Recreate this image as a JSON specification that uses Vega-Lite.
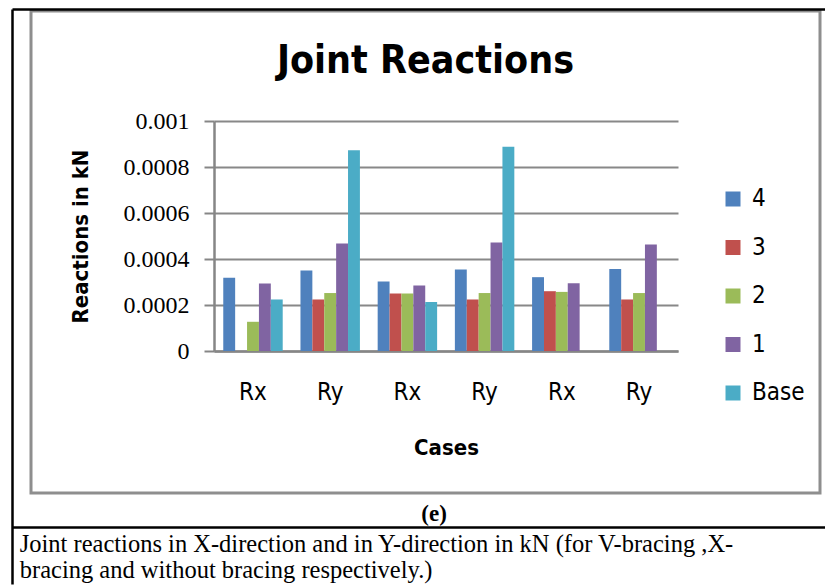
{
  "$schema": "https://vega.github.io/schema/vega-lite/v6.json",
  "padding": {"left": 7, "top": 4, "right": 0, "bottom": 0},
  "background": "white",
  "title": {
    "text": ["Joint reactions in X-direction and in Y-direction in kN (for V-bracing ,X-", "bracing and without bracing respectively.)"],
    "orient": "bottom", "anchor": "start", "dx": 12, "offset": -55,
    "font": "Liberation Serif", "fontSize": 24.5, "fontWeight": "normal", "color": "black",
    "lineHeight": 26, "baseline": "top"
  },
  "vconcat": [
    {
      "title": {
        "text": "(e)", "orient": "bottom", "anchor": "middle", "offset": -85, "dx": 7,
        "font": "Liberation Serif", "fontSize": 23, "fontWeight": "bold", "color": "black", "baseline": "top"
      },
      "vconcat": [
        {
          "width": 789,
          "height": 482,
          "view": {"stroke": "#8e8e8e", "strokeWidth": 3},
          "title": {
            "text": "Joint Reactions", "offset": -106, "baseline": "alphabetic", "anchor": "middle",
            "font": "Liberation Sans Narrow, DejaVu Sans Condensed, Roboto, sans-serif",
            "fontSize": 39, "fontWeight": "bold", "color": "black"
          },
          "resolve": {"scale": {"x": "independent", "y": "independent"}, "axis": {"x": "independent", "y": "independent"}},
          "layer": [
            {
              "data": {
                "values": [
                  {"case": "Rx1", "series": "4", "value": 0.000318},
                  {"case": "Rx1", "series": "2", "value": 0.000127},
                  {"case": "Rx1", "series": "1", "value": 0.000294},
                  {"case": "Rx1", "series": "Base", "value": 0.000224},
                  {"case": "Ry1", "series": "4", "value": 0.00035},
                  {"case": "Ry1", "series": "3", "value": 0.000224},
                  {"case": "Ry1", "series": "2", "value": 0.000252},
                  {"case": "Ry1", "series": "1", "value": 0.000467},
                  {"case": "Ry1", "series": "Base", "value": 0.000873},
                  {"case": "Rx2", "series": "4", "value": 0.000302},
                  {"case": "Rx2", "series": "3", "value": 0.00025},
                  {"case": "Rx2", "series": "2", "value": 0.00025},
                  {"case": "Rx2", "series": "1", "value": 0.000285},
                  {"case": "Rx2", "series": "Base", "value": 0.000213},
                  {"case": "Ry2", "series": "4", "value": 0.000354},
                  {"case": "Ry2", "series": "3", "value": 0.000224},
                  {"case": "Ry2", "series": "2", "value": 0.000252},
                  {"case": "Ry2", "series": "1", "value": 0.000472},
                  {"case": "Ry2", "series": "Base", "value": 0.000888},
                  {"case": "Rx3", "series": "4", "value": 0.000321},
                  {"case": "Rx3", "series": "3", "value": 0.00026},
                  {"case": "Rx3", "series": "2", "value": 0.000257},
                  {"case": "Rx3", "series": "1", "value": 0.000295},
                  {"case": "Ry3", "series": "4", "value": 0.000357},
                  {"case": "Ry3", "series": "3", "value": 0.000224},
                  {"case": "Ry3", "series": "2", "value": 0.000252},
                  {"case": "Ry3", "series": "1", "value": 0.000463}
                ]
              },
              "mark": {"type": "bar"},
              "encoding": {
                "x": {
                  "field": "case", "type": "nominal",
                  "scale": {"domain": ["Rx1", "Ry1", "Rx2", "Ry2", "Rx3", "Ry3"], "range": [183, 647], "paddingInner": 0.23, "paddingOuter": 0.12},
                  "axis": {
                    "orient": "bottom", "title": "Cases", "labelExpr": "substring(datum.label, 0, 2)", "labelAngle": 0,
                    "offset": -142, "ticks": false, "labelPadding": 29,
                    "domainColor": "#868686", "domainWidth": 2.5,
                    "labelFont": "DejaVu Sans Condensed, sans-serif", "labelFontSize": 24, "labelColor": "black",
                    "titleFont": "DejaVu Sans Condensed, sans-serif", "titleFontSize": 22, "titleFontWeight": "bold", "titleColor": "black",
                    "titlePadding": 33
                  }
                },
                "xOffset": {"field": "series", "type": "nominal", "scale": {"domain": ["4", "3", "2", "1", "Base"], "paddingInner": 0, "paddingOuter": 0}},
                "y": {
                  "field": "value", "type": "quantitative",
                  "scale": {"domain": [0, 0.001], "range": [340, 110], "nice": false, "zero": true},
                  "axis": {
                    "orient": "left", "title": "Reactions in kN", "values": [0, 0.0002, 0.0004, 0.0006, 0.0008, 0.001], "format": "~g",
                    "offset": -183, "grid": true, "gridColor": "#888888", "gridWidth": 2.2,
                    "domainColor": "#868686", "domainWidth": 2.5, "tickColor": "#868686", "tickWidth": 2, "tickSize": 10,
                    "labelPadding": 15, "labelFont": "Liberation Serif", "labelFontSize": 24, "labelColor": "black",
                    "titleFont": "DejaVu Sans Condensed, sans-serif", "titleFontSize": 22, "titleFontWeight": "bold", "titleColor": "black",
                    "titlePadding": 31
                  }
                },
                "color": {
                  "field": "series", "type": "nominal",
                  "scale": {"domain": ["4", "3", "2", "1", "Base"], "range": ["#4F81BD", "#C0504D", "#9BBB59", "#8064A2", "#4BACC6"]},
                  "legend": {
                    "title": null, "orient": "none", "legendX": 690, "legendY": 176, "padding": 0,
                    "symbolType": "square", "symbolSize": 225, "symbolStrokeWidth": 0, "symbolOpacity": 1,
                    "labelFont": "DejaVu Sans Condensed, sans-serif", "labelFontSize": 24, "labelColor": "black",
                    "labelOffset": 7, "rowPadding": 24.5
                  }
                }
              }
            },
            {
              "data": {"values": [{"t": 0}, {"t": 1}]},
              "mark": {"type": "point", "opacity": 0},
              "encoding": {
                "x": {
                  "field": "t", "type": "quantitative",
                  "scale": {"domain": [0, 1], "range": [-19, 795], "nice": false, "zero": false},
                  "axis": {"orient": "top", "offset": 2, "title": null, "labels": false, "ticks": false, "grid": false, "domainColor": "black", "domainWidth": 2.5}
                },
                "y": {
                  "field": "t", "type": "quantitative",
                  "scale": {"domain": [0, 1], "range": [573, -2], "nice": false, "zero": false},
                  "axis": {"orient": "left", "offset": 19, "title": null, "labels": false, "ticks": false, "grid": false, "domainColor": "black", "domainWidth": 2.5}
                }
              }
            },
            {
              "data": {"values": [{"t": 0}, {"t": 1}]},
              "mark": {"type": "point", "opacity": 0},
              "encoding": {
                "x": {
                  "field": "t", "type": "quantitative",
                  "scale": {"domain": [0, 1], "range": [-19, 795], "nice": false, "zero": false},
                  "axis": {"orient": "bottom", "offset": 34, "title": null, "labels": false, "ticks": false, "grid": false, "domainColor": "black", "domainWidth": 2.5}
                }
              }
            }
          ]
        }
      ]
    }
  ]
}
